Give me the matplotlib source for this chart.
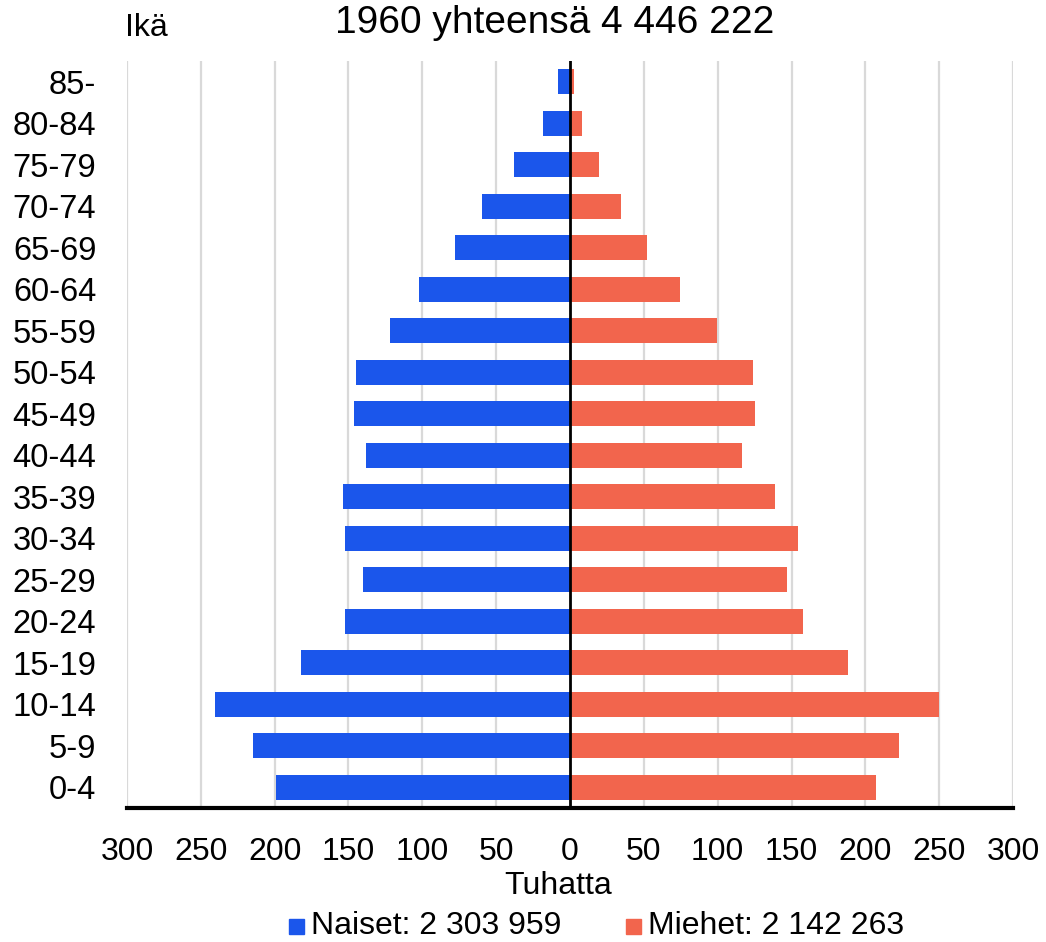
import matplotlib
matplotlib.use("Agg")
import matplotlib.pyplot as plt
from matplotlib.patches import Rectangle

plt.rcParams['font.family'] = ["Liberation Sans", "DejaVu Sans"]

ages = ["0-4", "5-9", "10-14", "15-19", "20-24", "25-29", "30-34", "35-39", "40-44",
        "45-49", "50-54", "55-59", "60-64", "65-69", "70-74", "75-79", "80-84", "85-"]
women = [199.4, 214.6, 240.3, 182.0, 152.6, 140.4, 152.3, 153.6, 137.9,
         146.1, 144.8, 121.7, 102.0, 77.6, 59.5, 38.1, 18.5, 8.1]
men = [207.3, 223.1, 249.7, 188.6, 158.1, 146.7, 154.2, 138.9, 116.3,
       125.5, 124.0, 99.3, 74.5, 51.9, 34.6, 19.4, 8.3, 2.7]
xticks = [-300, -250, -200, -150, -100, -50, 0, 50, 100, 150, 200, 250, 300]
title = "1960 yhteensä 4 446 222"
legend_labels = ["Naiset: 2 303 959", "Miehet: 2 142 263"]

blue = "#1B56EB"
red = "#F2654D"

W, H = 1046, 942
fig = plt.figure(figsize=(W / 100, H / 100), dpi=100)
ax = fig.add_axes([127 / W, 1 - 808 / H, (1013 - 127) / W, (808 - 61) / H])

y = list(range(len(ages)))
ax.barh(y, [-w for w in women], height=0.61, color=blue, zorder=3)
ax.barh(y, men, height=0.61, color=red, zorder=3)

ax.set_xlim(-300, 300)
ax.set_ylim(-0.5, len(ages) - 0.5)
ax.set_xticks(xticks)
ax.set_xticklabels([str(abs(v)) for v in xticks], fontsize=23)
ax.set_yticks(y)
ax.set_yticklabels(ages, fontsize=23.5)
ax.tick_params(axis='both', length=0)
ax.tick_params(axis='x', pad=21)
ax.tick_params(axis='y', pad=22)

for v in xticks:
    if v != 0:
        ax.axvline(v, color="#d9d9d9", lw=1.6, zorder=1)
ax.axvline(0, color="black", lw=2, zorder=4)

for s in ["left", "right", "top"]:
    ax.spines[s].set_visible(False)
ax.spines["bottom"].set_linewidth(3)
ax.spines["bottom"].set_color("black")
ax.spines["bottom"].set_zorder(5)

fig.text(555 / W, 1 - 23 / H, title, fontsize=28, ha="center", va="center")
fig.text(146 / W, 1 - 28 / H, "Ikä", fontsize=23, ha="center", va="center")
fig.text(558 / W, 1 - 886 / H, "Tuhatta", fontsize=23, ha="center", va="center")

# legend
ly = 1 - 926 / H
sq = 15
fig.patches.append(Rectangle((289 / W, ly - (sq / 2) / H), sq / W, sq / H,
                             transform=fig.transFigure, color=blue))
fig.text(311 / W, ly, legend_labels[0], fontsize=23, ha="left", va="center")
fig.patches.append(Rectangle((626 / W, ly - (sq / 2) / H), sq / W, sq / H,
                             transform=fig.transFigure, color=red))
fig.text(648 / W, ly, legend_labels[1], fontsize=23, ha="left", va="center")

fig.savefig("out.png", dpi=100)
